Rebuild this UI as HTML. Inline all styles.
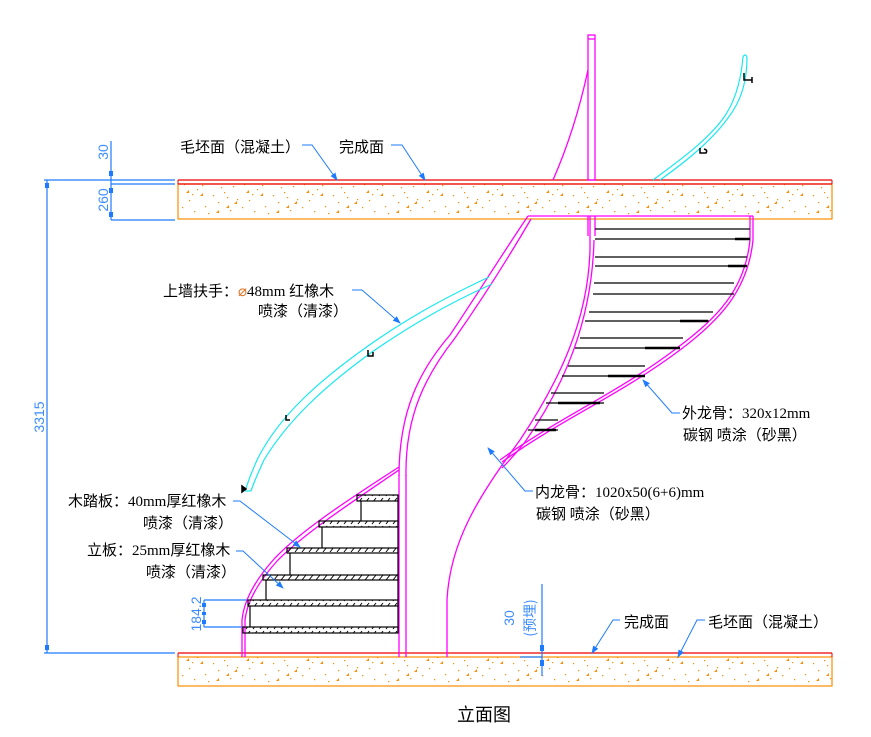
<!DOCTYPE html>
<html><head><meta charset="utf-8"><style>
html,body{margin:0;padding:0;background:#fff;}
svg{display:block;}
.t{font-family:"Liberation Serif","Noto Sans CJK SC",serif;font-size:15px;fill:#000;}
.d{font-family:"Liberation Sans",sans-serif;font-size:14px;fill:#3b8cff;}
</style></head><body>
<svg width="871" height="737" viewBox="0 0 871 737" xmlns="http://www.w3.org/2000/svg">
<defs>
<pattern id="conc" width="60" height="36" patternUnits="userSpaceOnUse">
<g fill="#ff8c00">
<rect x="4" y="4" width="1.2" height="1.2"/><rect x="17" y="9" width="1.2" height="1.2"/><rect x="30" y="3" width="1.2" height="1.2"/>
<rect x="44" y="12" width="1.2" height="1.2"/><rect x="53" y="6" width="1.2" height="1.2"/><rect x="9" y="20" width="1.2" height="1.2"/>
<rect x="25" y="26" width="1.2" height="1.2"/><rect x="38" y="22" width="1.2" height="1.2"/><rect x="50" y="30" width="1.2" height="1.2"/>
<rect x="14" y="31" width="1.2" height="1.2"/><rect x="33" y="15" width="1.2" height="1.2"/><rect x="57" y="19" width="1.2" height="1.2"/>
<rect x="2" y="27" width="1.2" height="1.2"/><rect x="22" y="5" width="1.2" height="1.2"/><rect x="41" y="7" width="1.2" height="1.2"/>
<rect x="28" y="33" width="1.2" height="1.2"/><rect x="47" y="17" width="1.2" height="1.2"/><rect x="12" y="14" width="1.2" height="1.2"/>
<path d="M20 16l3 -3v3z"/><path d="M46 28l3 -3v3z"/><path d="M6 13l3 -3v3z"/><path d="M36 33l3 -3v3z"/><path d="M54 24l3 -3v3z"/>
</g></pattern>
<pattern id="hat" width="7" height="7" patternUnits="userSpaceOnUse">
<path d="M1 6L5 1" stroke="#000" stroke-width="1"/></pattern>
<marker id="ar" markerWidth="8" markerHeight="6" refX="7" refY="3" orient="auto" markerUnits="userSpaceOnUse">
<path d="M0 0L8 3L0 6z" fill="#1e7bff"/></marker>
</defs>

<rect x="178" y="184" width="654" height="35" fill="url(#conc)" stroke="#ff8c00" stroke-width="1.2"/>
<line x1="178" y1="180" x2="832" y2="180" stroke="#e00" stroke-width="1.2"/>
<line x1="178" y1="184" x2="832" y2="184" stroke="#e00" stroke-width="1.2"/>
<line x1="178" y1="180" x2="178" y2="184" stroke="#e00"/><line x1="832" y1="180" x2="832" y2="184" stroke="#e00"/>
<rect x="178" y="657" width="654" height="29" fill="url(#conc)" stroke="#ff8c00" stroke-width="1.2"/>
<line x1="178" y1="653" x2="832" y2="653" stroke="#e00" stroke-width="1.2"/>
<line x1="178" y1="653" x2="178" y2="657" stroke="#e00"/><line x1="832" y1="653" x2="832" y2="657" stroke="#e00"/>

<g stroke="#1e7bff" stroke-width="1.2" fill="none">
<line x1="47" y1="180" x2="47" y2="653"/>
<line x1="44" y1="180" x2="175" y2="180"/>
<line x1="44" y1="653" x2="175" y2="653"/>
<line x1="111" y1="141" x2="111" y2="220"/>
<line x1="111" y1="184" x2="175" y2="184"/>
<line x1="111" y1="220" x2="175" y2="220"/>
<line x1="204" y1="600" x2="204" y2="627"/>
<line x1="204" y1="600" x2="248" y2="600"/>
<line x1="204" y1="627" x2="245" y2="627"/>
<line x1="542" y1="584" x2="542" y2="676"/>
<line x1="520" y1="657" x2="542" y2="657"/>
</g>
<g fill="#1e7bff">
<rect x="45" y="183" width="4" height="5"/><rect x="45" y="645" width="4" height="5"/>
<rect x="109" y="171" width="4" height="5"/><rect x="109" y="188" width="4" height="5"/><rect x="109" y="212" width="4" height="5"/>
<rect x="202" y="603" width="4" height="4"/><rect x="202" y="612" width="4" height="3"/><rect x="202" y="620" width="4" height="4"/>
<rect x="540" y="645" width="4" height="6"/><rect x="540" y="660" width="4" height="6"/>
</g>
<text class="d" transform="translate(44,417) rotate(-90)" text-anchor="middle">3315</text>
<text class="d" transform="translate(108,152) rotate(-90)" text-anchor="middle">30</text>
<text class="d" transform="translate(108,200) rotate(-90)" text-anchor="middle">260</text>
<text class="d" transform="translate(201,614) rotate(-90)" text-anchor="middle">184.2</text>
<text class="d" transform="translate(514,618) rotate(-90)" text-anchor="middle">30</text>
<text class="d" transform="translate(535,618) rotate(-90)" text-anchor="middle" style="font-family:'Noto Sans CJK SC',sans-serif;font-size:14px">(预埋)</text>

<g stroke="#f0f" stroke-width="1.3" fill="none">
<rect x="588" y="35" width="7" height="145"/>
<line x1="588" y1="39" x2="595" y2="39"/>
<path d="M553 180 Q575 130 588 70"/>
<line x1="399" y1="475" x2="399" y2="657"/>
<line x1="406" y1="475" x2="406" y2="657"/>
<path d="M399 476 C399 410 420 370 450 335 C480 290 505 250 528 216"/>
<path d="M406 476 C405 415 426 375 455 338 C485 295 510 255 531 219"/>
<line x1="528" y1="216" x2="753" y2="216"/>
<line x1="588" y1="216" x2="588" y2="236"/><line x1="595" y1="216" x2="595" y2="236"/>
<path d="M590 216 L590 250 C588 320 560 380 520 440 C480 495 450 540 447 600 L447 657"/>
<path d="M594 240 C592 320 565 385 525 442 C515 455 508 462 502 468"/>
<path d="M753 216 L753 240 C748 290 720 320 680 350 C620 395 560 420 502 462"/>
<path d="M750 216 L750 240 C745 290 717 318 677 348 C618 393 558 418 500 460"/>
<path d="M242 657 L242 620 C244 600 255 580 275 558 C300 532 340 505 399 467"/>
<path d="M245 657 L245 620 C247 602 258 582 278 560 C303 535 343 508 399 470"/>
</g>

<g stroke="#000" stroke-width="1.2">
<line x1="595" y1="229" x2="750" y2="229"/><line x1="595" y1="239" x2="750" y2="239"/>
<line x1="595" y1="257" x2="747" y2="257"/><line x1="595" y1="266" x2="747" y2="266"/>
<line x1="594" y1="283" x2="734" y2="283"/><line x1="593" y1="294" x2="734" y2="294"/>
<line x1="589" y1="312" x2="713" y2="312"/><line x1="585" y1="321" x2="709" y2="321"/>
<line x1="580" y1="338" x2="683" y2="338"/><line x1="575" y1="348" x2="680" y2="348"/>
<line x1="568" y1="366" x2="645" y2="366"/><line x1="562" y1="376" x2="645" y2="376"/>
<line x1="551" y1="393" x2="604" y2="393"/><line x1="546" y1="403" x2="604" y2="403"/>
<line x1="535" y1="420" x2="558" y2="420"/><line x1="528" y1="430" x2="558" y2="430"/>
</g>
<g stroke="#000" stroke-width="2.5">
<line x1="735" y1="239" x2="750" y2="239"/><line x1="728" y1="266" x2="747" y2="266"/>
<line x1="680" y1="321" x2="708" y2="321"/><line x1="645" y1="348" x2="680" y2="348"/>
<line x1="608" y1="376" x2="645" y2="376"/><line x1="558" y1="403" x2="600" y2="403"/>
<line x1="535" y1="430" x2="556" y2="430"/>
</g>

<g stroke="#000" stroke-width="1.2" fill="url(#hat)">
<rect x="357" y="495" width="41" height="6"/>
<rect x="319" y="521" width="79" height="6"/>
<rect x="287" y="548" width="111" height="5"/>
<rect x="263" y="575" width="135" height="5"/>
<rect x="248" y="600" width="150" height="6"/>
<rect x="243" y="627" width="155" height="6"/>
</g>
<g stroke="#000" stroke-width="1.2">
<line x1="361" y1="501" x2="361" y2="521"/><line x1="322" y1="527" x2="322" y2="548"/>
<line x1="290" y1="553" x2="290" y2="575"/><line x1="266" y1="580" x2="266" y2="600"/>
<line x1="250" y1="606" x2="250" y2="627"/>
<line x1="398" y1="495" x2="398" y2="633"/>
</g>

<g stroke="#18e8f0" stroke-width="1.2" fill="none">
<path d="M489 277 C440 300 405 320 368 346 C320 380 280 415 258 458 C250 475 247 485 245 491"/>
<path d="M492 284 C445 305 410 326 372 352 C325 386 288 420 264 460 C257 475 253 485 251 491"/>
<line x1="245" y1="491" x2="251" y2="491"/>
<path d="M653 180 C680 160 705 142 722 120 C735 103 741 80 743 57"/>
<path d="M660 180 C688 160 712 140 728 118 C742 100 747 80 747 57"/>
<path d="M743 57 Q745 53 747 57"/>
</g>
<g stroke="#000" stroke-width="1.5" fill="none">
<path d="M242 486 L242 492 L246 489z" fill="#000"/>
<path d="M368 350 L368 356 L373 356 L373 352"/>
<path d="M286 415 L286 420 L290 420"/>
<path d="M700 148 L700 153 L706 153 Q708 150 704 149"/>
<path d="M744 73 L744 80 L752 80 M752 77 L752 83"/>
</g>

<g stroke="#1e7bff" stroke-width="1" fill="none" marker-end="url(#ar)">
<path d="M302 145 L312 145 L337 180"/>
<path d="M391 145 L402 145 L425 180"/>
<path d="M352 290 L362 290 L400 323"/>
<path d="M680 413 L672 413 L643 380"/>
<path d="M533 491 L525 491 L488 448"/>
<path d="M233 501 L240 501 L300 547"/>
<path d="M236 551 L243 551 L283 588"/>
<path d="M620 620 L613 620 L592 653"/>
<path d="M705 620 L697 620 L678 657"/>
</g>

<text class="t" x="180" y="152">毛坯面（混凝土）</text>
<text class="t" x="339" y="152">完成面</text>
<text class="t" x="163" y="296">上墙扶手：<tspan fill="#e07020">⌀</tspan>48mm 红橡木</text>
<text class="t" x="258" y="316">喷漆（清漆）</text>
<text class="t" x="682" y="418">外龙骨：320x12mm</text>
<text class="t" x="683" y="440">碳钢 喷涂（砂黑）</text>
<text class="t" x="535" y="497">内龙骨：1020x50(6+6)mm</text>
<text class="t" x="536" y="519">碳钢 喷涂（砂黑）</text>
<text class="t" x="68" y="506">木踏板：40mm厚红橡木</text>
<text class="t" x="143" y="528">喷漆（清漆）</text>
<text class="t" x="87" y="555">立板：25mm厚红橡木</text>
<text class="t" x="146" y="577">喷漆（清漆）</text>
<text class="t" x="624" y="627">完成面</text>
<text class="t" x="708" y="627">毛坯面（混凝土）</text>
<text class="t" x="484" y="721" text-anchor="middle" style="font-size:18px">立面图</text>
</svg>
</body></html>
